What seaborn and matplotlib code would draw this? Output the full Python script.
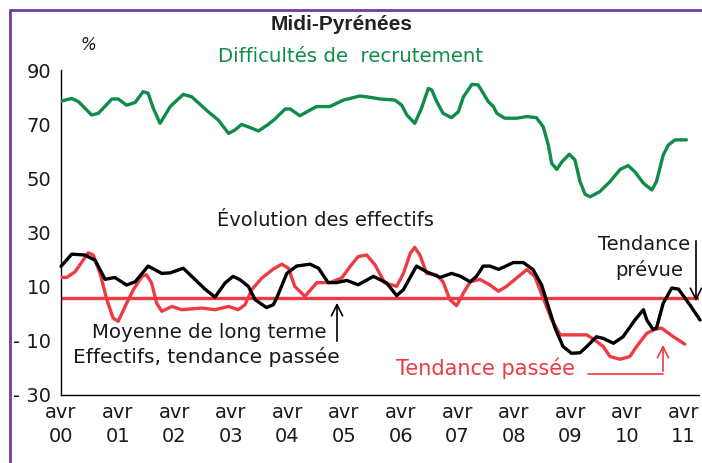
import numpy as np
import pandas as pd
import seaborn as sns
import matplotlib.pyplot as plt
from matplotlib.lines import Line2D

sns.set_style("white")
plt.rcParams['font.family'] = ['DejaVu Sans']

# x positions: years elapsed since April 2000 ("avr 00")
tick_years = ["00", "01", "02", "03", "04", "05", "06", "07", "08", "09", "10", "11"]
y_ticks = [-30, -10, 10, 30, 50, 70, 90]
y_tick_labels = ["- 30", "- 10", "10", "30", "50", "70", "90"]

recrut_t = [0.00, 0.19, 0.31, 0.54, 0.66, 0.90, 1.01, 1.16, 1.31, 1.45, 1.54, 1.63, 1.75, 1.93,
            2.16, 2.31, 2.60, 2.78, 2.96, 3.07, 3.19, 3.31, 3.49, 3.66, 3.78, 3.96, 4.05, 4.22,
            4.46, 4.52, 4.75, 4.99, 5.28, 5.40, 5.64, 5.90, 6.02, 6.11, 6.25, 6.37, 6.49, 6.55,
            6.64, 6.75, 6.90, 7.02, 7.11, 7.26, 7.37, 7.55, 7.64, 7.70, 7.84, 8.05, 8.23, 8.40,
            8.52, 8.61, 8.67, 8.76, 8.85, 8.98, 9.08, 9.17, 9.26, 9.35, 9.52, 9.70, 9.88, 10.02,
            10.14, 10.29, 10.44, 10.52, 10.64, 10.73, 10.85, 11.05]
recrut_v = [78.5, 79.5, 78.3, 73.4, 74.0, 79.3, 79.3, 77.0, 78.0, 82.0, 81.4, 75.9, 70.3, 76.5,
            81.0, 80.1, 74.6, 71.5, 66.6, 67.8, 69.9, 69.0, 67.5, 69.9, 71.9, 75.6, 75.6, 73.1,
            75.9, 76.5, 76.5, 78.9, 80.4, 80.1, 79.3, 78.9, 77.0, 73.4, 70.3, 75.9, 83.2, 82.6,
            78.3, 74.0, 72.4, 74.6, 80.1, 84.7, 84.5, 78.3, 76.5, 74.0, 72.2, 72.2, 72.8, 72.4,
            69.0, 62.3, 55.5, 53.3, 56.1, 58.9, 56.8, 48.8, 44.1, 43.2, 45.1, 48.8, 53.3, 54.7,
            52.4, 48.2, 45.7, 48.8, 58.6, 62.3, 64.2, 64.2]

prevue_t = [0.00, 0.19, 0.42, 0.60, 0.78, 0.95, 1.16, 1.31, 1.54, 1.78, 1.93, 2.16, 2.37, 2.54,
            2.72, 2.90, 3.04, 3.16, 3.31, 3.43, 3.63, 3.75, 3.81, 3.99, 4.16, 4.40, 4.55, 4.72,
            4.87, 5.05, 5.25, 5.52, 5.75, 5.93, 6.05, 6.28, 6.46, 6.70, 6.90, 7.05, 7.23, 7.34,
            7.46, 7.58, 7.73, 7.84, 7.99, 8.17, 8.34, 8.49, 8.61, 8.73, 8.87, 9.02, 9.17, 9.29,
            9.46, 9.58, 9.76, 9.93, 10.14, 10.29, 10.35, 10.46, 10.52, 10.64, 10.79, 10.91,
            11.11, 11.29]
prevue_v = [17.5, 22.0, 21.7, 19.8, 12.7, 13.4, 10.6, 11.8, 17.6, 14.9, 15.1, 16.8, 12.6, 9.2,
            6.1, 11.4, 13.8, 12.6, 10.1, 5.2, 2.3, 3.3, 5.8, 14.9, 17.6, 18.3, 16.8, 11.5,
            11.5, 12.3, 10.7, 13.8, 11.4, 6.7, 8.9, 17.6, 15.5, 13.4, 14.9, 13.9, 11.8, 13.8,
            17.6, 17.6, 16.4, 17.4, 18.9, 18.9, 16.3, 10.7, 2.7, -5.3, -12.1, -14.6, -14.4, -12.1,
            -8.5, -9.1, -10.9, -8.5, -2.3, 1.5, -2.3, -5.8, -5.3, 3.9, 9.5, 9.1,
            3.3, -2.3]

passee_t = [0.00, 0.10, 0.25, 0.48, 0.57, 0.69, 0.81, 0.92, 1.01, 1.16, 1.28, 1.43, 1.51, 1.60,
            1.69, 1.78, 1.96, 2.13, 2.49, 2.72, 2.96, 3.13, 3.25, 3.37, 3.55, 3.75, 3.90, 4.02,
            4.13, 4.31, 4.52, 4.75, 4.96, 5.11, 5.25, 5.40, 5.55, 5.72, 5.93, 6.05, 6.17, 6.25,
            6.34, 6.46, 6.64, 6.75, 6.87, 6.99, 7.11, 7.23, 7.40, 7.58, 7.73, 7.87, 8.05, 8.23,
            8.37, 8.52, 8.67, 8.82, 9.29, 9.43, 9.58, 9.70, 9.88, 10.05, 10.17, 10.35, 10.49,
            10.61, 10.82, 11.02]
passee_v = [13.4, 13.4, 15.5, 22.5, 21.7, 14.9, 5.2, -1.6, -2.8, 3.9, 8.9, 13.8, 14.4, 11.4,
            3.9, 0.9, 2.7, 1.5, 2.1, 1.5, 2.7, 1.5, 3.3, 8.9, 13.2, 16.5, 18.3, 16.8,
            10.1, 6.4, 11.5, 11.5, 13.2, 17.5, 21.1, 21.7, 18.0, 11.4, 10.1, 14.9, 22.3, 24.5,
            21.7, 14.9, 14.3, 11.8, 5.2, 3.0, 7.7, 11.8, 12.7, 10.6, 8.3, 10.1, 13.2, 16.3,
            13.8, 5.8, -2.3, -7.8, -7.8, -9.7, -12.1, -15.8, -16.8, -15.8, -12.1, -7.2, -5.8,
            -5.3, -8.5, -11.2]

moyenne_lt = 6.0

GREEN = "#0E8C48"
RED = "#EE3B43"
PURPLE = "#6A3FA0"
TXT = "#1a1a1a"

W, H = 702, 463
fig = plt.figure(figsize=(W / 100, H / 100), dpi=100)
def fx(px):
    return px / W
def fy(py):
    return 1 - py / H

ax = fig.add_axes([fx(61), fy(395), (699 - 61) / W, (395 - 70) / H])
ax.set_facecolor("none")
x_max = (699 - 61) / 56.6

df_g = pd.DataFrame({"t": recrut_t, "v": recrut_v})
df_b = pd.DataFrame({"t": prevue_t, "v": prevue_v})
df_r = pd.DataFrame({"t": passee_t, "v": passee_v})

ax.axhline(moyenne_lt, color=RED, lw=2.4, zorder=1)
sns.lineplot(data=df_g, x="t", y="v", ax=ax, color=GREEN, lw=2.4, zorder=3)
sns.lineplot(data=df_r, x="t", y="v", ax=ax, color=RED, lw=2.4, zorder=3)
sns.lineplot(data=df_b, x="t", y="v", ax=ax, color="black", lw=2.4, zorder=4, clip_on=False)

ax.set_xlim(0, x_max)
ax.set_ylim(-30, 90)
ax.set_xlabel("")
ax.set_ylabel("")
for s in ["top", "right"]:
    ax.spines[s].set_visible(False)
for s in ["left", "bottom"]:
    ax.spines[s].set_color("black")
    ax.spines[s].set_linewidth(1.0)

ax.set_yticks(y_ticks)
ax.set_yticklabels(y_tick_labels)
ax.set_xticks(list(range(len(tick_years))))
ax.set_xticklabels(["avr\n" + y for y in tick_years], linespacing=1.3)
ax.tick_params(axis="both", direction="in", length=6, width=1, color="black",
               labelsize=14, labelcolor=TXT)
ax.tick_params(axis="x", color="#555555")
ax.tick_params(axis="y", pad=7)
ax.tick_params(axis="x", pad=6)

# texts
fig.text(fx(342), fy(24), "Midi-Pyrénées", ha="center", va="center", fontsize=15,
         fontweight="bold", family="Liberation Sans", color="#222222")
fig.text(fx(88), fy(45), "%", ha="center", va="center", fontsize=12, style="italic", color=TXT)
fig.text(fx(350), fy(57), "Difficultés de  recrutement", ha="center", va="center",
         fontsize=14.2, color=GREEN)
fig.text(fx(325), fy(220), "Évolution des effectifs", ha="center", va="center",
         fontsize=14, color=TXT)
fig.text(fx(690), fy(245), "Tendance", ha="right", va="center", fontsize=14, color=TXT)
fig.text(fx(683), fy(270), "prévue", ha="right", va="center", fontsize=14, color=TXT)
fig.text(fx(327), fy(332), "Moyenne de long terme", ha="right", va="center", fontsize=14.2,
         color=TXT)
fig.text(fx(340), fy(357), "Effectifs, tendance passée", ha="right", va="center",
         fontsize=14.5, color=TXT)
fig.text(fx(486), fy(368), "Tendance passée", ha="center", va="center", fontsize=15,
         color=RED)

# arrows
arrow_kw = dict(arrowstyle="->", lw=1.2, mutation_scale=20)
ax.annotate("", xy=(fx(337), fy(300)), xycoords="figure fraction",
            xytext=(fx(337), fy(344)), textcoords="figure fraction",
            arrowprops=dict(color="black", **arrow_kw))
ax.annotate("", xy=(fx(696), fy(304)), xycoords="figure fraction",
            xytext=(fx(696), fy(238)), textcoords="figure fraction",
            arrowprops=dict(color="black", **arrow_kw))
ax.annotate("", xy=(fx(663), fy(342)), xycoords="figure fraction",
            xytext=(fx(663), fy(374)), textcoords="figure fraction",
            arrowprops=dict(color=RED, **arrow_kw))
fig.add_artist(Line2D([fx(588), fx(663)], [fy(374), fy(374)], color=RED, lw=1.2))

# purple frame (left and top edges visible)
fig.add_artist(Line2D([fx(10), fx(10)], [fy(10), 0], color=PURPLE, lw=2))
fig.add_artist(Line2D([fx(10), 1], [fy(10), fy(10)], color=PURPLE, lw=2))

fig.savefig("out.png", dpi=100)
